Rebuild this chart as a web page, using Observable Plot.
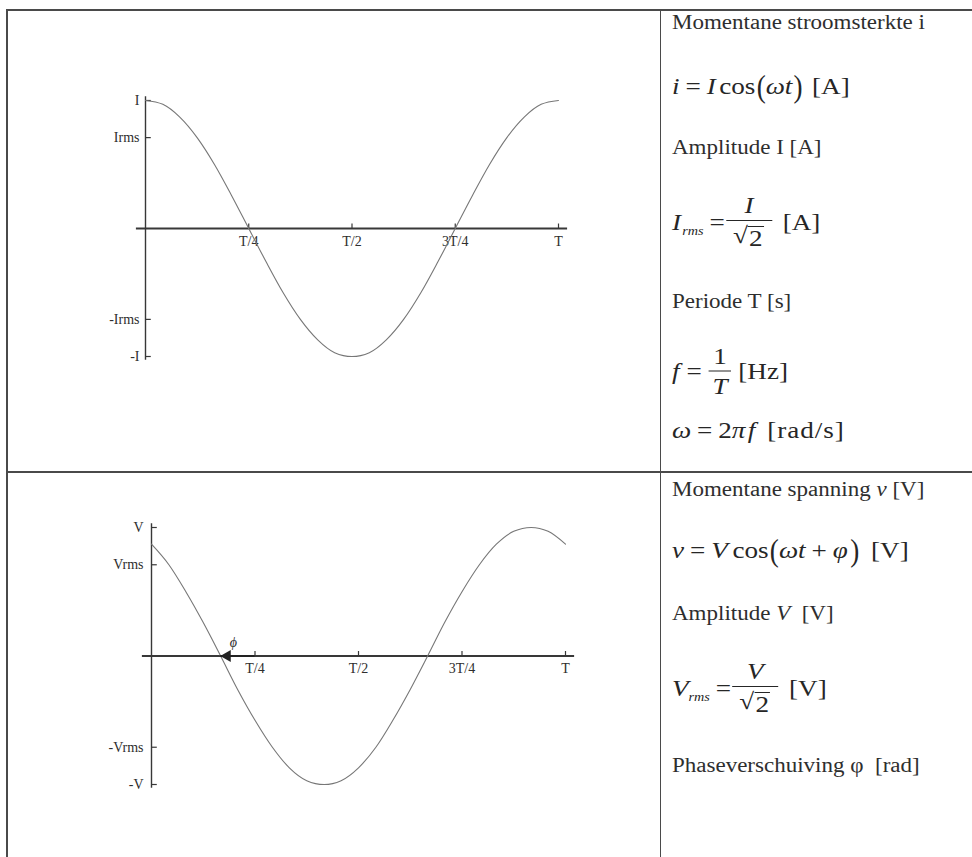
<!DOCTYPE html>
<html>
<head>
<meta charset="utf-8">
<script src="https://cdn.jsdelivr.net/npm/d3@7"></script>
<script src="https://cdn.jsdelivr.net/npm/@observablehq/plot@0.6"></script>
<style>
  html, body { margin: 0; padding: 0; background: #fff; }
  #sheet { position: relative; width: 972px; height: 857px; overflow: hidden; background: #fff;
           font-family: "Liberation Serif", "Times New Roman", serif; color: #2e2e2e; }
  .rule { position: absolute; background: #4a4a4a; z-index: 2; }
  .plot { position: absolute; z-index: 1; }
  .line { position: absolute; left: 672px; white-space: nowrap; display: flex; align-items: center;
          line-height: 1; transform-origin: left center; }
  .txt { font-size: 20px; transform: translateY(-50%) scaleX(1.15); }
  .eq { font-size: 23px; transform: translateY(-50%) scaleX(1.18); color: #262626; }
  .eq i { font-style: italic; }
  .paren { display: inline-block; transform: scaleY(1.4); }
  .frac { display: inline-flex; flex-direction: column; align-items: center; }
  .frac .num { padding: 0 0 3px 0; }
  .frac .den { border-top: 1.3px solid #262626; padding-top: 3px; }
  .sqrt { display: inline-flex; align-items: flex-start; }
  .sqrt .rad { border-top: 1.3px solid #262626; margin-top: 2px; padding: 0 1px; }
  .sub { font-size: 12px; font-style: italic; position: relative; top: 9px; }
  .g { display: inline-block; }
</style>
</head>
<body>
<div id="sheet">
  <div class="rule" style="left:6px; top:9px; width:966px; height:2px;"></div>
  <div class="rule" style="left:6px; top:9px; width:1.6px; height:848px;"></div>
  <div class="rule" style="left:660px; top:9px; width:1.4px; height:848px;"></div>
  <div class="rule" style="left:6px; top:471px; width:966px; height:1.8px;"></div>

  <div id="plotTop" class="plot" style="left:0; top:0;"></div>
  <div id="plotBottom" class="plot" style="left:0; top:472px;"></div>

  <!-- current -->
  <div class="line txt" style="top:22px;">Momentane stroomsterkte i</div>
  <div class="line eq" style="top:86px;">
    <i>i</i><span class="g" style="width:5px"></span>=<span class="g" style="width:5px"></span><i>I</i><span class="g" style="width:3px"></span>cos<span class="g" style="width:1px"></span><span class="paren">(</span><i>ωt</i><span class="g" style="width:1px"></span><span class="paren">)</span><span class="g" style="width:8px"></span>[A]
  </div>
  <div class="line txt" style="top:147px;">Amplitude I [A]</div>
  <div class="line eq" style="top:222px;">
    <i>I</i><span class="sub" style="margin-left:1px">rms</span><span class="g" style="width:5px"></span>=<span class="g" style="width:1px"></span>
    <span class="frac"><span class="num"><i>I</i></span><span class="den" style="padding-left:6px;padding-right:7px"><span class="sqrt">√<span class="rad">2</span></span></span></span>
    <span class="g" style="width:9px"></span>[A]
  </div>
  <div class="line txt" style="top:301px;">Periode T [s]</div>
  <div class="line eq" style="top:371px;">
    <i>f</i><span class="g" style="width:6px"></span>=<span class="g" style="width:6px"></span>
    <span class="frac"><span class="num">1</span><span class="den" style="padding-left:3px;padding-right:3px"><i>T</i></span></span>
    <span class="g" style="width:6px"></span>[Hz]
  </div>
  <div class="line eq" style="top:430px;">
    <i>ω</i><span class="g" style="width:5px"></span>=<span class="g" style="width:5px"></span>2<i>π</i><span class="g" style="width:2px"></span><i>f</i><span class="g" style="width:10px"></span><span style="letter-spacing:0.8px">[rad/s]</span>
  </div>

  <!-- voltage -->
  <div class="line txt" style="top:489px;">Momentane spanning&nbsp;<i>ν</i>&nbsp;[V]</div>
  <div class="line eq" style="top:550px;">
    <i>ν</i><span class="g" style="width:5px"></span>=<span class="g" style="width:5px"></span><i>V</i><span class="g" style="width:4px"></span>cos<span class="g" style="width:1px"></span><span class="paren">(</span><i>ωt</i><span class="g" style="width:5px"></span>+<span class="g" style="width:5px"></span><i>φ</i><span class="g" style="width:2px"></span><span class="paren">)</span><span class="g" style="width:10px"></span>[V]
  </div>
  <div class="line txt" style="top:613px;">Amplitude&nbsp;<i>V</i>&nbsp;&nbsp;[V]</div>
  <div class="line eq" style="top:688px;">
    <i>V</i><span class="sub" style="margin-left:0px">rms</span><span class="g" style="width:5px"></span>=<span class="g" style="width:1px"></span>
    <span class="frac"><span class="num"><i>V</i></span><span class="den" style="padding-left:6px;padding-right:7px"><span class="sqrt">√<span class="rad">2</span></span></span></span>
    <span class="g" style="width:9px"></span>[V]
  </div>
  <div class="line txt" style="top:765px;">Phaseverschuiving φ&nbsp;&nbsp;[rad]</div>
</div>

<script>
// Time as a fraction of one period T, sampled every T/24
const tFrac = [0, 0.042, 0.083, 0.125, 0.167, 0.208, 0.25, 0.292, 0.333, 0.375, 0.417, 0.458,
               0.5, 0.542, 0.583, 0.625, 0.667, 0.708, 0.75, 0.792, 0.833, 0.875, 0.917, 0.958, 1];

// Instantaneous current i / I
const currentValues = [1, 0.97, 0.87, 0.71, 0.5, 0.26, 0, -0.26, -0.5, -0.71, -0.87, -0.97,
                       -1, -0.97, -0.87, -0.71, -0.5, -0.26, 0, 0.26, 0.5, 0.71, 0.87, 0.97, 1];

// Instantaneous voltage v / V (leads the current by T/12)
const voltageValues = [0.87, 0.71, 0.5, 0.26, 0, -0.26, -0.5, -0.71, -0.87, -0.97, -1, -0.97,
                       -0.87, -0.71, -0.5, -0.26, 0, 0.26, 0.5, 0.71, 0.87, 0.97, 1, 0.97, 0.87];

// Axis ticks
const timeTicks = [0.25, 0.5, 0.75, 1];
const timeLabels = ["T/4", "T/2", "3T/4", "T"];
const levelTicks = [1, 0.71, -0.71, -1];
const currentLabels = ["I", "Irms", "-Irms", "-I"];
const voltageLabels = ["V", "Vrms", "-Vrms", "-V"];

// Phase shift marker on the time axis (in periods)
const phaseShift = [{from: 0.25, to: 0.167, head: 0.183, label: "ϕ", at: 0.198}];

const axisColor = "#383838";
const curveColor = "#777";

function wave(values, levelLabels, frame, labelGap, extraMarks = []) {
  const rows = tFrac.map((t, i) => ({t, y: values[i]}));
  const ticks = levelTicks.map((y, i) => ({y, label: levelLabels[i]}));
  const times = timeTicks.map((t, i) => ({t, label: timeLabels[i]}));
  return Plot.plot({
    ...frame,
    x: {domain: [0, 1], axis: null},
    y: {domain: [-1, 1], axis: null},
    style: {background: "transparent", fontFamily: "'Liberation Serif', serif", fontSize: "14px", color: "#2e2e2e", overflow: "visible"},
    marks: [
      Plot.ruleY([0], {x1: -0.022, x2: 1.022, stroke: axisColor, strokeWidth: 1.8}),
      Plot.ruleX([0], {y1: -1.03, y2: 1.03, stroke: axisColor, strokeWidth: 1.4}),
      Plot.ruleY(ticks, {y: "y", x1: 0, x2: 0.014, stroke: axisColor, strokeWidth: 1.2}),
      Plot.ruleX(times, {x: "t", y1: 0, y2: 0.035, stroke: axisColor, strokeWidth: 1.2}),
      Plot.text(times, {x: "t", y: 0, text: "label", dy: 13, fontSize: 14}),
      Plot.text(ticks, {x: 0, y: "y", text: "label", textAnchor: "end", dx: -labelGap, fontSize: 14}),
      Plot.line(rows, {x: "t", y: "y", curve: "monotone-x", stroke: curveColor, strokeWidth: 1.1}),
      ...extraMarks
    ]
  });
}

document.getElementById("plotTop").append(
  wave(currentValues, currentLabels,
       {width: 660, height: 470, marginLeft: 145, marginRight: 102, marginTop: 100, marginBottom: 114}, 6)
);

document.getElementById("plotBottom").append(
  wave(voltageValues, voltageLabels,
       {width: 660, height: 385, marginLeft: 151, marginRight: 95, marginTop: 55, marginBottom: 73}, 8,
       [
         Plot.ruleY(phaseShift, {x1: "from", x2: "to", y: 0, stroke: "#222", strokeWidth: 2.2}),
         Plot.dot(phaseShift, {x: "head", y: 0, symbol: "triangle", r: 4.5, rotate: -90, fill: "#222", stroke: "none"}),
         Plot.text(phaseShift, {x: "at", y: 0, text: "label", dy: -13, fontStyle: "italic", fontSize: 14})
       ])
);
</script>
</body>
</html>
